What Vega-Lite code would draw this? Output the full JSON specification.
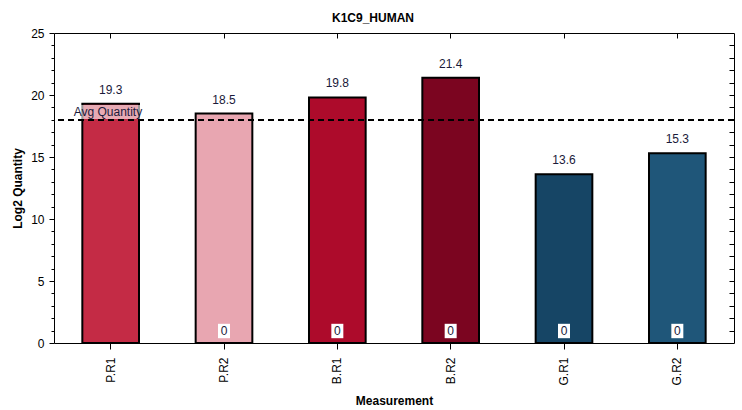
{
  "$schema": "https://vega.github.io/schema/vega-lite/v6.json",
  "autosize": "none",
  "padding": {"left": 54, "top": 33, "right": 8, "bottom": 67},
  "width": 680,
  "height": 310,
  "title": {
    "text": "K1C9_HUMAN",
    "font": "Liberation Sans",
    "fontSize": 12,
    "fontWeight": "bold",
    "color": "black",
    "offset": 2,
    "dx": -21
  },
  "data": {
    "values": [
      {"Measurement": "P.R1", "Quantity": 19.3, "Low": null},
      {"Measurement": "P.R2", "Quantity": 18.5, "Low": 0},
      {"Measurement": "B.R1", "Quantity": 19.8, "Low": 0},
      {"Measurement": "B.R2", "Quantity": 21.4, "Low": 0},
      {"Measurement": "G.R1", "Quantity": 13.6, "Low": 0},
      {"Measurement": "G.R2", "Quantity": 15.3, "Low": 0}
    ]
  },
  "resolve": {"axis": {"x": "independent", "y": "independent"}},
  "layer": [
    {
      "mark": {"type": "bar", "stroke": "black", "strokeWidth": 2},
      "encoding": {
        "x": {
          "field": "Measurement",
          "type": "nominal",
          "sort": null,
          "scale": {"paddingInner": 0.5, "paddingOuter": 0.25},
          "axis": {
            "orient": "bottom",
            "title": "Measurement",
            "labelAngle": 270,
            "labelAlign": "right",
            "labelBaseline": "middle",
            "tickSize": 6,
            "labelPadding": 8,
            "titlePadding": 10,
            "domain": false
          }
        },
        "y": {
          "field": "Quantity",
          "type": "quantitative",
          "scale": {"domain": [0, 25], "nice": false},
          "axis": {
            "orient": "left",
            "title": "Log2 Quantity",
            "values": [0, 1, 2, 3, 4, 5, 6, 7, 8, 9, 10, 11, 12, 13, 14, 15, 16, 17, 18, 19, 20, 21, 22, 23, 24, 25],
            "labelExpr": "datum.value % 5 === 0 ? datum.label : ''",
            "tickSize": {"condition": {"test": "datum.value % 5 === 0", "value": 5}, "value": 3},
            "labelPadding": 5,
            "titlePadding": 6,
            "domain": false
          }
        },
        "color": {
          "field": "Measurement",
          "type": "nominal",
          "sort": null,
          "legend": null,
          "scale": {"range": ["#C42B45", "#E8A6B1", "#AD0B2B", "#7B0520", "#164565", "#1F5679"]}
        }
      }
    },
    {
      "mark": {"type": "rule", "stroke": "black", "strokeWidth": 2, "strokeDash": [6, 4]},
      "encoding": {
        "y": {
          "aggregate": "mean",
          "field": "Quantity",
          "type": "quantitative",
          "axis": {
            "orient": "right",
            "title": null,
            "labels": false,
            "values": [1, 2, 3, 4, 5, 6, 7, 8, 9, 10, 11, 12, 13, 14, 15, 16, 17, 18, 19, 20, 21, 22, 23, 24],
            "tickSize": -5,
            "domain": false
          }
        }
      }
    },
    {
      "transform": [
        {"joinaggregate": [{"op": "mean", "field": "Quantity", "as": "Avg"}]},
        {"filter": "datum.Measurement === 'P.R1'"}
      ],
      "mark": {
        "type": "point",
        "shape": "M-1,-0.2L1,-0.2L1,0.2L-1,0.2Z",
        "size": 5041,
        "filled": true,
        "fill": "white",
        "opacity": 0.6,
        "strokeWidth": 0,
        "xOffset": -1,
        "yOffset": -8
      },
      "encoding": {
        "x": {"field": "Measurement", "type": "nominal", "sort": null, "axis": null},
        "y": {"field": "Avg", "type": "quantitative", "axis": null}
      }
    },
    {
      "transform": [
        {"joinaggregate": [{"op": "mean", "field": "Quantity", "as": "Avg"}]},
        {"filter": "datum.Measurement === 'P.R1'"}
      ],
      "mark": {
        "type": "text",
        "text": "Avg Quantity",
        "font": "Liberation Sans",
        "fontSize": 12,
        "color": "#1a1a3a",
        "align": "left",
        "baseline": "middle",
        "dx": -37,
        "dy": -8.5
      },
      "encoding": {
        "x": {"field": "Measurement", "type": "nominal", "sort": null, "axis": null},
        "y": {"field": "Avg", "type": "quantitative", "axis": null}
      }
    },
    {
      "mark": {
        "type": "text",
        "font": "Liberation Sans",
        "fontSize": 12,
        "color": "#1a1a3a",
        "baseline": "middle",
        "dy": -14
      },
      "encoding": {
        "x": {
          "field": "Measurement",
          "type": "nominal",
          "sort": null,
          "axis": {"orient": "top", "title": null, "labels": false, "tickSize": -5, "domain": false}
        },
        "y": {"field": "Quantity", "type": "quantitative", "axis": null},
        "text": {"field": "Quantity", "type": "quantitative", "format": ".1f"}
      }
    },
    {
      "transform": [{"filter": "datum.Low != null"}],
      "mark": {
        "type": "point",
        "shape": "M-1,-1.2L1,-1.2L1,1.2L-1,1.2Z",
        "size": 144,
        "filled": true,
        "fill": "white",
        "opacity": 1,
        "strokeWidth": 0,
        "yOffset": -12
      },
      "encoding": {
        "x": {"field": "Measurement", "type": "nominal", "sort": null, "axis": null},
        "y": {"field": "Low", "type": "quantitative", "axis": null}
      }
    },
    {
      "transform": [{"filter": "datum.Low != null"}],
      "mark": {
        "type": "text",
        "font": "Liberation Sans",
        "fontSize": 12,
        "color": "#1a1a3a",
        "baseline": "middle",
        "dy": -12
      },
      "encoding": {
        "x": {"field": "Measurement", "type": "nominal", "sort": null, "axis": null},
        "y": {"field": "Low", "type": "quantitative", "axis": null},
        "text": {"field": "Low", "type": "quantitative"}
      }
    }
  ],
  "config": {
    "view": {"stroke": "black", "strokeWidth": 1},
    "axis": {
      "grid": false,
      "labelFont": "Liberation Sans",
      "labelFontSize": 12,
      "labelColor": "black",
      "titleFont": "Liberation Sans",
      "titleFontSize": 12,
      "titleFontWeight": "bold",
      "titleColor": "black",
      "tickColor": "black"
    }
  }
}
